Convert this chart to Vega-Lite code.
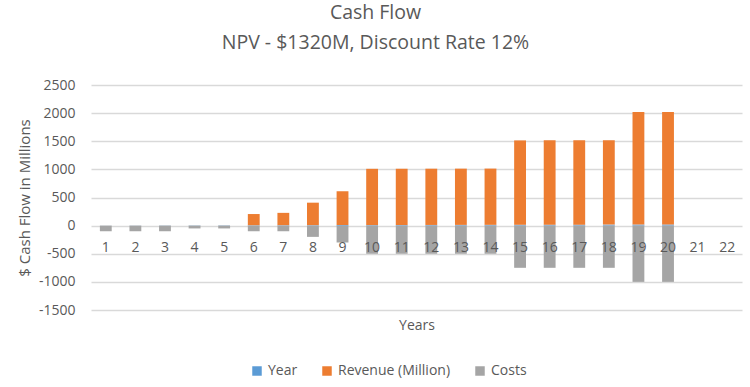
{
  "$schema": "https://vega.github.io/schema/vega-lite/v6.json",
  "autosize": {"type": "none"},
  "width": 651,
  "height": 225,
  "padding": {"left": 91, "top": 85, "right": 8, "bottom": 77},
  "background": "white",
  "title": {
    "text": ["Cash Flow", "NPV - $1320M, Discount Rate 12%"],
    "font": "Open Sans",
    "fontSize": 19.5,
    "fontWeight": "normal",
    "color": "#595959",
    "anchor": "middle",
    "dx": -41,
    "lineHeight": 30,
    "offset": 25
  },
  "data": {
    "values": [
      {"year": 1, "series": "Year", "value": 1},
      {"year": 2, "series": "Year", "value": 2},
      {"year": 3, "series": "Year", "value": 3},
      {"year": 4, "series": "Year", "value": 4},
      {"year": 5, "series": "Year", "value": 5},
      {"year": 6, "series": "Year", "value": 6},
      {"year": 7, "series": "Year", "value": 7},
      {"year": 8, "series": "Year", "value": 8},
      {"year": 9, "series": "Year", "value": 9},
      {"year": 10, "series": "Year", "value": 10},
      {"year": 11, "series": "Year", "value": 11},
      {"year": 12, "series": "Year", "value": 12},
      {"year": 13, "series": "Year", "value": 13},
      {"year": 14, "series": "Year", "value": 14},
      {"year": 15, "series": "Year", "value": 15},
      {"year": 16, "series": "Year", "value": 16},
      {"year": 17, "series": "Year", "value": 17},
      {"year": 18, "series": "Year", "value": 18},
      {"year": 19, "series": "Year", "value": 19},
      {"year": 20, "series": "Year", "value": 20},
      {"year": 6, "series": "Revenue (Million)", "value": 200},
      {"year": 7, "series": "Revenue (Million)", "value": 220},
      {"year": 8, "series": "Revenue (Million)", "value": 400},
      {"year": 9, "series": "Revenue (Million)", "value": 600},
      {"year": 10, "series": "Revenue (Million)", "value": 1000},
      {"year": 11, "series": "Revenue (Million)", "value": 1000},
      {"year": 12, "series": "Revenue (Million)", "value": 1000},
      {"year": 13, "series": "Revenue (Million)", "value": 1000},
      {"year": 14, "series": "Revenue (Million)", "value": 1000},
      {"year": 15, "series": "Revenue (Million)", "value": 1500},
      {"year": 16, "series": "Revenue (Million)", "value": 1500},
      {"year": 17, "series": "Revenue (Million)", "value": 1500},
      {"year": 18, "series": "Revenue (Million)", "value": 1500},
      {"year": 19, "series": "Revenue (Million)", "value": 2000},
      {"year": 20, "series": "Revenue (Million)", "value": 2000},
      {"year": 1, "series": "Costs", "value": -100},
      {"year": 2, "series": "Costs", "value": -100},
      {"year": 3, "series": "Costs", "value": -100},
      {"year": 4, "series": "Costs", "value": -50},
      {"year": 5, "series": "Costs", "value": -50},
      {"year": 6, "series": "Costs", "value": -100},
      {"year": 7, "series": "Costs", "value": -100},
      {"year": 8, "series": "Costs", "value": -200},
      {"year": 9, "series": "Costs", "value": -300},
      {"year": 10, "series": "Costs", "value": -500},
      {"year": 11, "series": "Costs", "value": -500},
      {"year": 12, "series": "Costs", "value": -500},
      {"year": 13, "series": "Costs", "value": -500},
      {"year": 14, "series": "Costs", "value": -500},
      {"year": 15, "series": "Costs", "value": -750},
      {"year": 16, "series": "Costs", "value": -750},
      {"year": 17, "series": "Costs", "value": -750},
      {"year": 18, "series": "Costs", "value": -750},
      {"year": 19, "series": "Costs", "value": -1000},
      {"year": 20, "series": "Costs", "value": -1000}
    ]
  },
  "mark": {"type": "bar"},
  "encoding": {
    "x": {
      "field": "year",
      "type": "ordinal",
      "scale": {"domain": [1,2,3,4,5,6,7,8,9,10,11,12,13,14,15,16,17,18,19,20,21,22], "paddingInner": 0.6, "paddingOuter": 0.3},
      "axis": {
        "title": "Years",
        "labelAngle": 0,
        "domain": false,
        "ticks": false,
        "tickSize": 0,
        "grid": false,
        "zindex": 1,
        "labelPadding": -70,
        "labelFont": "Open Sans",
        "labelFontSize": 14,
        "labelColor": "#595959",
        "titleFont": "Open Sans",
        "titleFontSize": 14,
        "titleFontWeight": "normal",
        "titleColor": "#595959",
        "titleBaseline": "middle",
        "titleY": 15
      }
    },
    "y": {
      "field": "value",
      "type": "quantitative",
      "stack": "zero",
      "scale": {"domain": [-1500, 2500], "nice": false},
      "axis": {
        "title": "$ Cash Flow in Millions",
        "values": [-1500, -1000, -500, 0, 500, 1000, 1500, 2000, 2500],
        "labelExpr": "'' + datum.value",
        "domain": false,
        "ticks": false,
        "labelPadding": 16,
        "gridColor": "#d9d9d9",
        "gridWidth": 1.3,
        "labelFont": "Open Sans",
        "labelFontSize": 14,
        "labelColor": "#595959",
        "titleFont": "Open Sans",
        "titleFontSize": 15,
        "titleFontWeight": "normal",
        "titleColor": "#595959",
        "titlePadding": 6
      }
    },
    "color": {
      "field": "series",
      "type": "nominal",
      "scale": {"domain": ["Year", "Revenue (Million)", "Costs"], "range": ["#5b9bd5", "#ed7d31", "#a5a5a5"]},
      "legend": {
        "title": null,
        "orient": "none",
        "direction": "horizontal",
        "legendX": 159,
        "legendY": 279,
        "symbolType": "square",
        "symbolSize": 90,
        "symbolStrokeWidth": 0,
        "columnPadding": 22,
        "labelFont": "Open Sans",
        "labelFontSize": 14,
        "labelColor": "#595959"
      }
    },
    "order": {"field": "series", "sort": "descending"}
  },
  "config": {"view": {"stroke": null}}
}
